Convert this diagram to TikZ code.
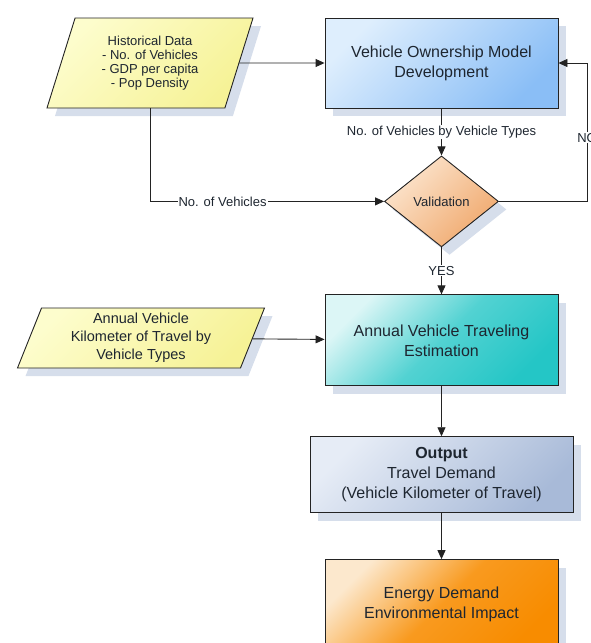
\documentclass[tikz,border=0pt]{standalone}
\usepackage{fontspec}
\setmainfont{Liberation Sans}
\usepackage{tikz}
\usetikzlibrary{positioning,arrows.meta,shapes.geometric,shadows}
\definecolor{LineGrey}{RGB}{35,35,35}
\definecolor{TextDark}{RGB}{30,38,48}
\definecolor{ShadowBlue}{RGB}{214,222,235}
\definecolor{HistLight}{RGB}{253,253,205}
\definecolor{HistDark}{RGB}{246,242,150}
\definecolor{OwnLight}{RGB}{222,238,253}
\definecolor{OwnDark}{RGB}{138,190,246}
\definecolor{ValLight}{RGB}{252,230,208}
\definecolor{ValDark}{RGB}{240,168,108}
\definecolor{TravLight}{RGB}{220,246,246}
\definecolor{TravDark}{RGB}{36,198,198}
\definecolor{OutLight}{RGB}{230,236,246}
\definecolor{OutDark}{RGB}{168,186,216}
\definecolor{EnerLight}{RGB}{252,232,205}
\definecolor{EnerDark}{RGB}{248,140,0}

\begin{document}
\begin{tikzpicture}[
  x=1pt, y=1pt,
  font=\fontsize{16}{20}\selectfont,
  shad/.style={drop shadow={shadow xshift=8pt,shadow yshift=-8pt,fill=ShadowBlue,opacity=1}},
  box/.style={shad,draw=LineGrey,line width=0.9pt,align=center,text=TextDark,inner sep=2pt,minimum width=233pt,minimum height=90pt},
  datain/.style={shad,trapezium,trapezium stretches body,draw=LineGrey,line width=0.9pt,align=center,text=TextDark,inner sep=1pt},
  decide/.style={shad,diamond,aspect=1.25,draw=LineGrey,line width=0.9pt,text=TextDark,inner sep=0pt,minimum width=114pt,minimum height=91pt,font=\fontsize{13}{15}\selectfont},
  lbl/.style={fill=white,inner sep=1pt,text=TextDark,font=\fontsize{13}{15}\selectfont},
  ar/.style={-{Triangle[length=9pt,width=8pt]},draw=LineGrey,line width=0.9pt}
]
\useasboundingbox (0,0) rectangle (591,-643);
\node[box,top color=OwnLight,bottom color=OwnDark,shading angle=45] (own) at (441.5,-63) {Vehicle Ownership Model\\Development};
\node[datain,top color=HistLight,bottom color=HistDark,shading angle=45,trapezium left angle=63.4,trapezium right angle=116.6,minimum width=206pt,minimum height=90pt,font=\fontsize{13}{14}\selectfont] (hist) at (150,-63) {Historical Data\\- No. of Vehicles\\- GDP per capita\\- Pop Density};
\node[decide,top color=ValLight,bottom color=ValDark,shading angle=45,below=47pt of own] (valid) {Validation};
\node[box,top color=TravLight,bottom color=TravDark,middle color=TravDark!75!TravLight,shading angle=45,minimum height=91pt,below=47pt of valid] (trav) {Annual Vehicle Traveling\\Estimation};
\node[datain,top color=HistLight,bottom color=HistDark,shading angle=45,trapezium left angle=65,trapezium right angle=115,minimum width=247pt,minimum height=60pt,font=\fontsize{14.5}{18}\selectfont] (akt) at (141,-338) {Annual Vehicle\\Kilometer of Travel by\\Vehicle Types};
\node[box,top color=OutLight,bottom color=OutDark,shading angle=45,minimum width=263pt,minimum height=76pt,below=50pt of trav] (out) {\textbf{Output}\\Travel Demand\\(Vehicle Kilometer of Travel)};
\node[box,top color=EnerLight,bottom color=EnerDark,middle color=EnerDark!85!EnerLight,shading angle=45,below=46pt of out] (ener) {Energy Demand\\Environmental Impact};
\coordinate (noturn) at (587,-63);
% connectors
\draw[ar] (hist) -- (own);
\draw[ar] (own) -- node[lbl] {No. of Vehicles by Vehicle Types} (valid);
\draw[ar] (hist) |- node[lbl,pos=0.655] {No. of Vehicles} (valid);
\draw[ar] (valid) -| node[lbl,pos=0.73] {NO} (noturn) -- (own);
\draw[ar] (valid) -- node[lbl] {YES} (trav);
\draw[ar] (akt) -- (trav);
\draw[ar] (trav) -- (out);
\draw[ar] (out) -- (ener);
\end{tikzpicture}
\end{document}
